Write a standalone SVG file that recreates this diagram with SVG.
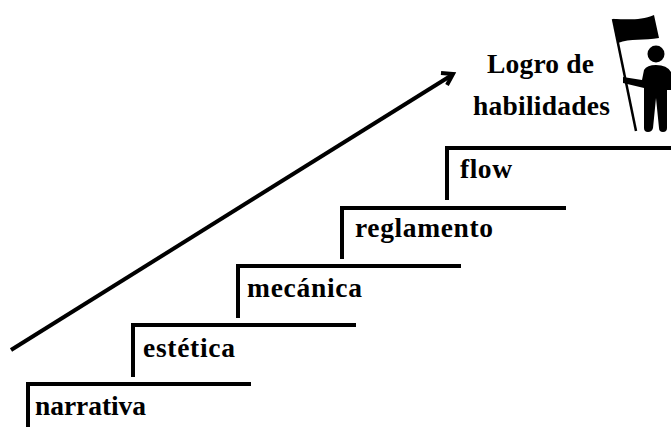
<svg xmlns="http://www.w3.org/2000/svg" width="671" height="427" viewBox="0 0 671 427">
<style>
.s{fill:none;stroke:#000;stroke-width:4}
.a{fill:none;stroke:#000;stroke-width:4;stroke-linecap:butt}
.t{font-family:"Liberation Serif",serif;font-weight:bold;font-size:27.5px;fill:#000}
</style>
<rect width="671" height="427" fill="#fff"/>
<g id="connectors">
<path class="a" d="M11 350L452 75"/>
<path class="a" d="M441 73L453 74L447 85" stroke-linejoin="miter"/>
</g>
<g id="step-narrativa"><path class="s" d="M28 427V384H251"/><text class="t" x="35" y="415" textLength="111">narrativa</text></g>
<g id="step-estetica"><path class="s" d="M133 377V325H356"/><text class="t" x="143" y="357" textLength="92">estética</text></g>
<g id="step-mecanica"><path class="s" d="M238 318V266H461"/><text class="t" x="247" y="297" textLength="115">mecánica</text></g>
<g id="step-reglamento"><path class="s" d="M342 259V208H566"/><text class="t" x="355" y="237" textLength="138">reglamento</text></g>
<g id="step-flow"><path class="s" d="M447 200V148H671"/><text class="t" x="460" y="178" textLength="52">flow</text></g>
<g id="goal">
<text class="t" x="487" y="73" textLength="107">Logro de</text>
<text class="t" x="473" y="115" textLength="137">habilidades</text>
<path d="M613 19C625 19 640 21 654 15L659 38C645 41 630 38 618 43Z" fill="#000"/>
<path d="M613 19L636 131" fill="none" stroke="#000" stroke-width="2.5"/>
<circle cx="656" cy="54" r="8.5" fill="#000"/>
<path d="M623 77L642 80L644 70Q647 65 656 65Q667 65 671 72V90L667 90V128Q667 132 663 132Q659 132 659 128L656 98L653 128Q652 132 648 132Q644 132 644 128V88L623 83Z" fill="#000"/>
</g>
</svg>
